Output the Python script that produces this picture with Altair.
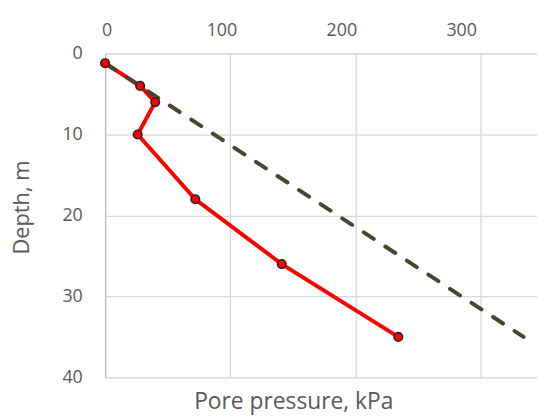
import altair as alt
import pandas as pd

# Measured pore pressure profile
depth_m = [1.2, 4, 6, 10, 18, 26, 35]
pore_kpa = [0, 28, 40, 26, 72, 141, 234]

# Hydrostatic line
hydro_depth = [1.2, 35]
hydro_kpa = [0, 334]

x_ticks = [0, 100, 200, 300]
y_ticks = [0, 10, 20, 30, 40]

meas = pd.DataFrame({"p": pore_kpa, "d": depth_m, "o": list(range(len(depth_m)))})
hyd = pd.DataFrame({"p": hydro_kpa, "d": hydro_depth, "o": [0, 1]})

FONT = "Open Sans"
TXT = "#595959"

xscale = alt.Scale(domain=[0, 344.7], nice=False, zero=False)
yscale = alt.Scale(domain=[0, 40], reverse=True, nice=False)

xax = alt.Axis(
    orient="top", values=x_ticks, grid=True, gridColor="#d9d9d9", gridWidth=1.3,
    domain=False, ticks=False, labelFont=FONT, labelFontSize=18, labelColor=TXT,
    labelPadding=14, labelOffset={"expr": "-3.5 - 0.055*datum.value"},
    title="Pore pressure, kPa", titleFont=FONT, titleFontSize=23, titleFontWeight="normal",
    titleColor=TXT, titleX=190, titleY=358, titleAlign="center", titleBaseline="alphabetic",
)
yax = alt.Axis(
    values=y_ticks, grid=True, gridColor="#d9d9d9", gridWidth=1.3,
    domain=True, domainColor="#bfbfbf", domainWidth=1.3, ticks=False,
    labelFont=FONT, labelFontSize=18, labelColor=TXT, labelPadding=23,
    title="Depth, m", titleFont=FONT, titleFontSize=22, titleFontWeight="normal",
    titleColor=TXT, titleAngle=-90, titleX=-84, titleY=155, titleAlign="center",
    titleBaseline="middle",
)

enc_x = alt.X("p:Q", scale=xscale, axis=xax)
enc_y = alt.Y("d:Q", scale=yscale, axis=yax)

red_line = alt.Chart(meas).mark_line(color="#ff0000", strokeWidth=4).encode(
    x=enc_x, y=enc_y, order="o:Q"
)
dash_line = alt.Chart(hyd).mark_line(
    color="#4a4430", strokeWidth=4, strokeDash=[12, 14], strokeCap="round"
).encode(x=alt.X("p:Q", scale=xscale), y=alt.Y("d:Q", scale=yscale), order="o:Q")
pts = alt.Chart(meas).mark_point(
    filled=True, fill="#ff0000", stroke="#262626", strokeWidth=1.6, size=75, opacity=1,
    shape="circle"
).encode(x=alt.X("p:Q", scale=xscale), y=alt.Y("d:Q", scale=yscale))

chart = alt.layer(red_line, dash_line, pts).properties(
    width=436, height=327,
    autosize=alt.AutoSizeParams(type="none"),
    padding={"left": 98, "top": 44, "right": 0, "bottom": 37},
).configure_view(stroke=None).configure(background="white")

chart.save("out.html", embed_options={"renderer": "svg", "actions": False})
